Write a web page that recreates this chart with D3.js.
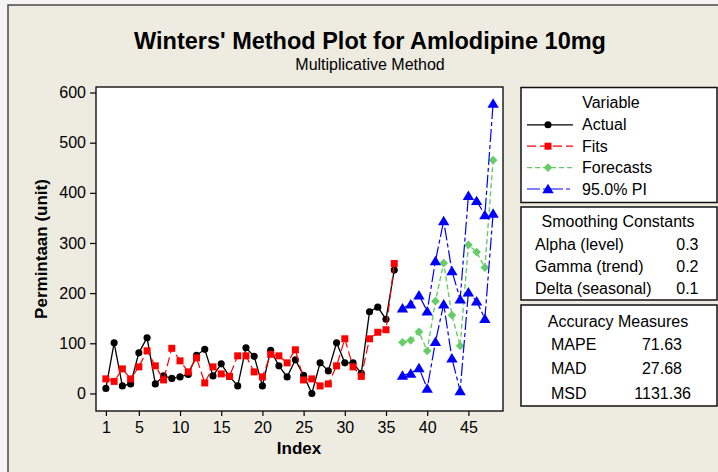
<!DOCTYPE html>
<html>
<head>
<meta charset="utf-8">
<script src="https://cdn.jsdelivr.net/npm/d3@7"></script>
<style>
  html, body { margin: 0; padding: 0; background: #f4f4f4; }
  svg { display: block; }
  text { font-family: "Liberation Sans", Arial, sans-serif; fill: #000; }
</style>
</head>
<body>
<svg id="chart" width="718" height="472"></svg>
<script>
// ---------- DATA ----------
const actualIndex = d3.range(1, 37);
const actual = [10,101,15,19,81,111,19,35,30,33,38,76,88,35,59,34,15,91,74,15,86,55,33,67,36,0,61,45,101,61,61,40,163,172,148,246];
const fits   = [29,24,49,29,53,85,55,27,90,65,43,71,21,53,39,34,75,75,43,33,78,75,61,87,27,29,15,19,55,109,53,34,109,122,127,259];
const forecastIndex = d3.range(37, 49);
const forecasts = [102,106,123,85,184,260,156,95,296,282,251,465];
const piUpper   = [170,178,196,164,264,344,244,188,394,384,356,578];
const piLower   = [36,40,51,10,103,178,70,5,202,184,149,359];
const xTicks = [1,5,10,15,20,25,30,35,40,45];
const yTicks = [0,100,200,300,400,500,600];
const legendLabels = ["Actual","Fits","Forecasts","95.0% PI"];
const smoothingLabels = ["Alpha (level)","Gamma (trend)","Delta (seasonal)"];
const smoothingValues = ["0.3","0.2","0.1"];
const accuracyLabels = ["MAPE","MAD","MSD"];
const accuracyValues = ["71.63","27.68","1131.36"];

// ---------- SETUP ----------
const svg = d3.select("#chart");
svg.append("rect").attr("x", 8).attr("y", 5).attr("width", 730).attr("height", 480)
  .attr("fill", "#eeebe1").attr("stroke", "#4a4a4a").attr("stroke-width", 1.5);

const plot = { left: 96, right: 503, top: 87, bottom: 411 };
const x = d3.scaleLinear().domain([-0.2, 49.2]).range([plot.left, plot.right]);
const y = d3.scaleLinear().domain([-35, 611]).range([plot.bottom, plot.top]);

svg.append("rect").attr("x", plot.left).attr("y", plot.top)
  .attr("width", plot.right - plot.left).attr("height", plot.bottom - plot.top)
  .attr("fill", "#fff");

// Titles
svg.append("text").attr("x", 370).attr("y", 48.5).attr("text-anchor", "middle")
  .attr("font-size", 23.5).attr("font-weight", "bold")
  .text("Winters' Method Plot for Amlodipine 10mg");
svg.append("text").attr("x", 370).attr("y", 70).attr("text-anchor", "middle")
  .attr("font-size", 16).text("Multiplicative Method");

// Axes
const gx = svg.append("g").attr("transform", `translate(0,${plot.bottom})`)
  .call(d3.axisBottom(x).tickValues(xTicks).tickSize(5).tickPadding(5.5).tickFormat(d3.format("d")));
const gy = svg.append("g").attr("transform", `translate(${plot.left},0)`)
  .call(d3.axisLeft(y).tickValues(yTicks).tickSize(6).tickPadding(4).tickFormat(d3.format("d")));
[gx, gy].forEach(g => {
  g.select(".domain").remove();
  g.selectAll(".tick line").attr("stroke", "#000").attr("stroke-width", 1.2);
  g.selectAll(".tick text").attr("font-size", 16).attr("font-family", "Liberation Sans, Arial, sans-serif").attr("fill", "#000");
});

svg.append("text").attr("x", 299).attr("y", 454).attr("text-anchor", "middle")
  .attr("font-size", 17).attr("font-weight", "bold").text("Index");
svg.append("text").attr("transform", "translate(46.5,249) rotate(-90)").attr("text-anchor", "middle")
  .attr("font-size", 17).attr("font-weight", "bold").text("Permintaan (unit)");

// ---------- Symbols ----------
const diamond = { draw(ctx, size) { const r = Math.sqrt(size) / 2 * 1.25;
  ctx.moveTo(0, -r); ctx.lineTo(r, 0); ctx.lineTo(0, r); ctx.lineTo(-r, 0); ctx.closePath(); } };
const triangle = { draw(ctx, size) { const h = Math.sqrt(size) * 1.0, w = h * 0.6;
  ctx.moveTo(0, -h * 0.55); ctx.lineTo(w, h * 0.45); ctx.lineTo(-w, h * 0.45); ctx.closePath(); } };

const styles = [
  { color: "#000000", dash: null, sym: d3.symbolCircle, size: 40, width: 1.3 },
  { color: "#ff0000", dash: "9,4", sym: d3.symbolSquare, size: 49, width: 1.2 },
  { color: "#66cc66", dash: "5,3", sym: diamond, size: 49, width: 1.4 },
  { color: "#0000ff", dash: "13,3,4,3", sym: triangle, size: 90, width: 1.2 }
];

const clip = svg.append("clipPath").attr("id", "plotclip").append("rect")
  .attr("x", plot.left).attr("y", plot.top).attr("width", plot.right - plot.left).attr("height", plot.bottom - plot.top);
const g = svg.append("g").attr("clip-path", "url(#plotclip)");
const line = d3.line().x(d => x(d[0])).y(d => y(d[1]));

function drawSeries(idx, vals, st) {
  const pts = idx.map((i, k) => [i, vals[k]]);
  g.append("path").datum(pts).attr("d", line).attr("fill", "none")
    .attr("stroke", st.color).attr("stroke-width", st.width)
    .attr("stroke-dasharray", st.dash);
  g.selectAll(null).data(pts).enter().append("path")
    .attr("transform", d => `translate(${x(d[0])},${y(d[1])})`)
    .attr("d", d3.symbol().type(st.sym).size(st.size))
    .attr("fill", st.color);
}
drawSeries(actualIndex, actual, styles[0]);
drawSeries(actualIndex, fits, styles[1]);
drawSeries(forecastIndex, forecasts, styles[2]);
drawSeries(forecastIndex, piUpper, styles[3]);
drawSeries(forecastIndex, piLower, styles[3]);

svg.append("rect").attr("x", plot.left).attr("y", plot.top)
  .attr("width", plot.right - plot.left).attr("height", plot.bottom - plot.top)
  .attr("fill", "none").attr("stroke", "#000").attr("stroke-width", 1.3);

// ---------- Legend boxes ----------
const boxX = 521, boxW = 196;
function box(y0, y1) {
  svg.append("rect").attr("x", boxX).attr("y", y0).attr("width", boxW).attr("height", y1 - y0)
    .attr("fill", "#fff").attr("stroke", "#111").attr("stroke-width", 1.5);
}
box(87.5, 202.5); box(207, 300); box(305, 406);

svg.append("text").attr("x", 611).attr("y", 108).attr("text-anchor", "middle").attr("font-size", 16).text("Variable");
legendLabels.forEach((lab, k) => {
  const by = 130.3 + k * 21.4, ly = by - 5.5, st = styles[k];
  svg.append("line").attr("x1", 527).attr("x2", 573).attr("y1", ly).attr("y2", ly)
    .attr("stroke", st.color).attr("stroke-width", st.width).attr("stroke-dasharray", st.dash);
  svg.append("path").attr("transform", `translate(548,${ly})`)
    .attr("d", d3.symbol().type(st.sym).size(st.size)).attr("fill", st.color);
  svg.append("text").attr("x", 582).attr("y", by).attr("font-size", 16).text(lab);
});

svg.append("text").attr("x", 618).attr("y", 227.3).attr("text-anchor", "middle").attr("font-size", 16).text("Smoothing Constants");
smoothingLabels.forEach((lab, k) => {
  const by = 249.5 + k * 22.3;
  svg.append("text").attr("x", 535).attr("y", by).attr("font-size", 16).text(lab);
  svg.append("text").attr("x", 698.5).attr("y", by).attr("text-anchor", "end").attr("font-size", 16).text(smoothingValues[k]);
});

svg.append("text").attr("x", 618).attr("y", 327.3).attr("text-anchor", "middle").attr("font-size", 16).text("Accuracy Measures");
const accRight = [682, 682, 691];
accuracyLabels.forEach((lab, k) => {
  const by = 350 + k * 24.3;
  svg.append("text").attr("x", 551).attr("y", by).attr("font-size", 16).text(lab);
  svg.append("text").attr("x", accRight[k]).attr("y", by).attr("text-anchor", "end").attr("font-size", 16).text(accuracyValues[k]);
});
</script>
</body>
</html>
